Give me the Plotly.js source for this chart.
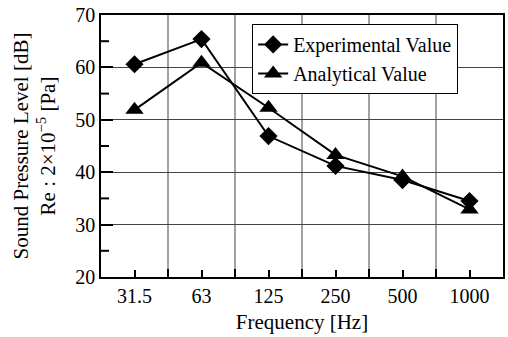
<!DOCTYPE html>
<html>
<head>
<meta charset="utf-8">
<script src="https://cdn.plot.ly/plotly-3.0.1.min.js"></script>
<style>html,body{margin:0;padding:0;background:#fff;}#chart{width:508px;height:337px;}</style>
</head>
<body>
<div id="chart"></div>
<script>
const frequencies = ["31.5", "63", "125", "250", "500", "1000"];
const experimental = [60.6, 65.4, 46.9, 41.2, 38.5, 34.5];
const analytical = [51.9, 60.9, 52.3, 43.3, 39.2, 32.9];
const yTicks = [20, 30, 40, 50, 60, 70];
const yMinorTicks = [25, 35, 45, 55, 65];

const xIdx = frequencies.map((f, i) => i);
const boundaries = frequencies.slice(1).map((f, i) => i + 0.5);

const font = "Liberation Serif, Times New Roman, serif";

const traces = [
  {
    x: xIdx, y: experimental, name: "Experimental Value", type: "scatter", mode: "lines+markers",
    line: {color: "#000", width: 2},
    marker: {symbol: "diamond", size: 14, color: "#000"}
  },
  {
    x: xIdx, y: analytical, name: "Analytical Value", type: "scatter", mode: "lines+markers",
    line: {color: "#000", width: 2},
    marker: {symbol: "triangle-up", size: 16, color: "#000"}
  }
];

// category-boundary gridlines and ticks, and minor y ticks (axis decorations)
const shapes = [];
boundaries.forEach(function (b) {
  shapes.push({type: "line", layer: "below", xref: "x", yref: "paper", x0: b, x1: b, y0: 0, y1: 1,
               line: {color: "#444", width: 1}});
  shapes.push({type: "line", layer: "above", xref: "x", yref: "paper", ysizemode: "pixel", yanchor: 0,
               x0: b, x1: b, y0: 0, y1: 8, line: {color: "#000", width: 2}});
});
yMinorTicks.forEach(function (v) {
  shapes.push({type: "line", layer: "above", xref: "paper", yref: "y", xsizemode: "pixel", xanchor: 0,
               x0: 0, x1: 8, y0: v, y1: v, line: {color: "#000", width: 2}});
});

const layout = {
  width: 508, height: 337,
  margin: {l: 101, r: 5, t: 15, b: 60},
  paper_bgcolor: "#fff", plot_bgcolor: "#fff",
  font: {family: font, size: 20, color: "#000"},
  showlegend: true,
  legend: {
    x: 0.376, y: 0.966, xanchor: "left", yanchor: "top",
    bgcolor: "#fff", bordercolor: "#000", borderwidth: 1,
    font: {family: font, size: 20, color: "#000"},
    tracegroupgap: 0
  },
  shapes: shapes,
  xaxis: {
    range: [-0.5, frequencies.length - 0.5],
    tickmode: "array", tickvals: xIdx, ticktext: frequencies,
    ticks: "inside", ticklen: 7, tickcolor: "#000", tickwidth: 1.5,
    showgrid: false, zeroline: false,
    showline: true, linecolor: "#000", linewidth: 1.5, mirror: true,
    tickfont: {family: font, size: 20},
    title: {text: "Frequency [Hz]", font: {family: font, size: 21}, standoff: 9}
  },
  yaxis: {
    range: [20, 70],
    tickmode: "array", tickvals: yTicks,
    ticks: "inside", ticklen: 12, tickcolor: "#000", tickwidth: 2,
    showgrid: true, gridcolor: "#444", gridwidth: 1, zeroline: false,
    showline: true, linecolor: "#000", linewidth: 1.5, mirror: true,
    tickfont: {family: font, size: 20},
    title: {text: "Sound Pressure Level [dB]<br>Re : 2×10<sup>−5</sup> [Pa]", font: {family: font, size: 21}, standoff: 14}
  }
};

Plotly.newPlot("chart", traces, layout, {displayModeBar: false});
</script>
</body>
</html>
